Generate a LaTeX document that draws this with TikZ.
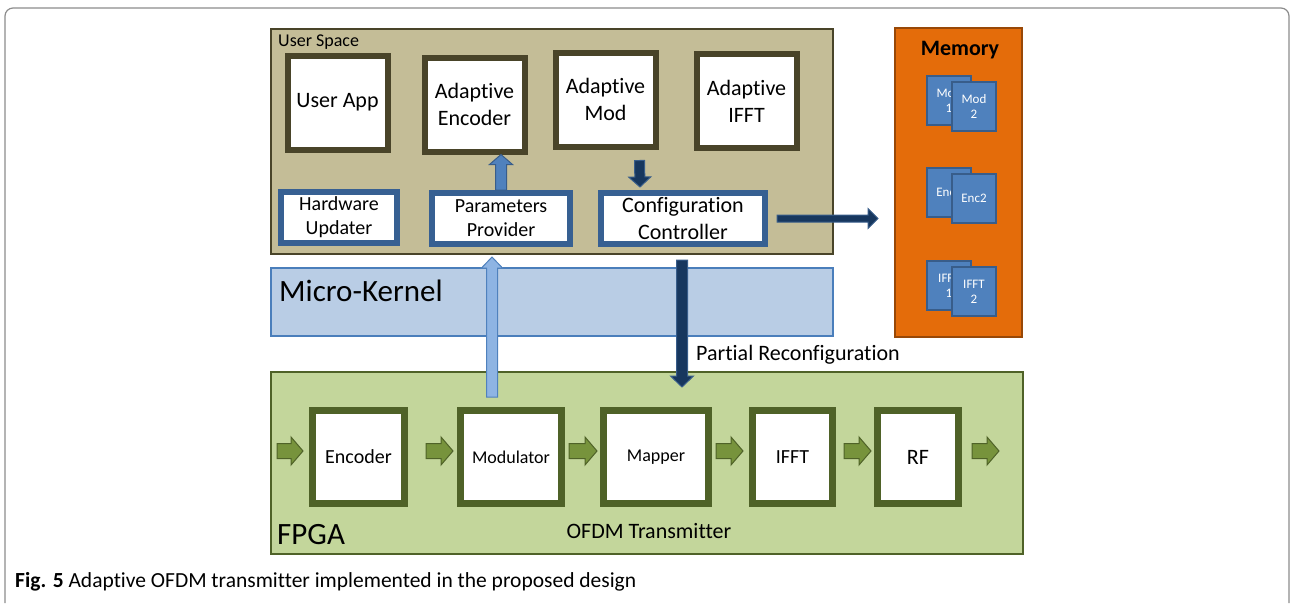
\documentclass[tikz,border=0pt]{standalone}
\usepackage{fontspec}
\setmainfont{Carlito}[Ligatures=NoCommon]
\usetikzlibrary{shapes,arrows,positioning,calc}

\definecolor{tanfill}{HTML}{C4BD97}
\definecolor{tanline}{HTML}{494429}
\definecolor{blueline}{HTML}{376092}
\definecolor{kernfill}{HTML}{B9CDE5}
\definecolor{kernline}{HTML}{4A7EBB}
\definecolor{fpgafill}{HTML}{C3D69B}
\definecolor{fpgaline}{HTML}{4F6228}
\definecolor{arrowgreen}{HTML}{77933C}
\definecolor{memfill}{HTML}{E46C0A}
\definecolor{memline}{HTML}{984807}
\definecolor{cardfill}{HTML}{4F81BD}
\definecolor{cardline}{HTML}{385D8A}
\definecolor{paleblue}{HTML}{8EB4E3}
\definecolor{navy}{HTML}{17375E}
\definecolor{framegray}{HTML}{8C8C8C}

% block arrow: shaft half width, head half width, head length
\tikzset{fatarrow/.style n args={3}{to path={
  ($(\tikztotarget)!#3!(\tikztostart)$) coordinate (fa-h)
  ($(\tikztostart)!#1!90:(\tikztotarget)$) -- ($(fa-h)!#1!90:(\tikztotarget)$)
  -- ($(fa-h)!#2!90:(\tikztotarget)$) -- (\tikztotarget)
  -- ($(fa-h)!#2!-90:(\tikztotarget)$) -- ($(fa-h)!#1!-90:(\tikztotarget)$)
  -- ($(\tikztostart)!#1!-90:(\tikztotarget)$) -- cycle}}}

\begin{document}
\begin{tikzpicture}[x=1pt,y=-1pt]
\tikzstyle{panel} = [rectangle, draw, line width=2pt, inner sep=0pt]
\tikzstyle{topbox} = [rectangle, draw=tanline, fill=white, line width=6pt, inner sep=0pt,
    align=center, minimum width=100pt, minimum height=94pt, font=\fontsize{22}{27}\selectfont]
\tikzstyle{ctrlbox} = [rectangle, draw=blueline, fill=white, line width=6pt, inner sep=0pt,
    align=center, minimum height=51pt]
\tikzstyle{fpgabox} = [rectangle, draw=fpgaline, fill=white, line width=7pt, inner sep=0pt,
    minimum height=93pt]
\tikzstyle{card} = [rectangle, draw=cardline, fill=cardfill, line width=2pt, text=white,
    align=center, minimum width=44pt, minimum height=49pt, inner sep=0pt,
    font=\fontsize{13}{15}\selectfont]
\tikzstyle{greenarrow} = [draw=fpgaline, fill=arrowgreen, line width=1pt, fatarrow={7.5pt}{14pt}{12pt}]
\tikzstyle{label} = [inner sep=0pt]

\useasboundingbox (0,0) rectangle (1291,603);
\draw[framegray, line width=1.2pt, rounded corners=8pt] (5,603) -- (5,8) -- (1289,8) -- (1289,603);

% user space
\node[panel, draw=tanline, fill=tanfill, minimum width=562pt, minimum height=225pt] (userspace) at (552,141.5) {};
\node[label, anchor=base west, font=\fontsize{18}{20}\selectfont] (uslabel) at (278,46) {User Space};

\node[topbox] (userapp) at (337.5,102.5) {User App};
\node[topbox, right=31pt of userapp, yshift=-2pt] (adenc) {Adaptive\\Encoder};
\node[topbox, right=25pt of adenc, yshift=5pt] (admod) {Adaptive\\Mod};
\node[topbox, right=35pt of admod, yshift=-1.5pt] (adifft) {Adaptive\\IFFT};

\node[ctrlbox, minimum width=116pt, font=\fontsize{20}{24}\selectfont] (hwupd) at (339,217.5) {Hardware\\Updater};
\node[ctrlbox, minimum width=138pt, font=\fontsize{20}{24}\selectfont, right=29pt of hwupd, yshift=-1pt] (parprov) {Parameters\\Provider};
\node[ctrlbox, minimum width=164pt, font=\fontsize{22}{27}\selectfont, right=25pt of parprov] (confctrl) {Configuration\\Controller};

% micro-kernel
\node[panel, draw=kernline, line width=1.5pt, fill=kernfill, minimum width=562pt, minimum height=68pt,
    below=12pt of userspace] (kernel) {};
\node[label, anchor=west, font=\fontsize{31}{36}\selectfont] (kernlabel) at (279,291) {Micro-Kernel};

% memory
\node[panel, draw=memline, fill=memfill, minimum width=127pt, minimum height=309pt] (memory) at (958.5,182.5) {};
\node[label, font=\bfseries\fontsize{22}{26}\selectfont] (memlabel) at (960,50) {Memory};

\node[card] (mod1) at (949,100.5) {Mod\\1};
\node[card] (mod2) at ($(mod1)+(25,6)$) {Mod\\2};
\node[card, below=41pt of mod1] (enc1) {Enc1};
\node[card] (enc2) at ($(enc1)+(25,6)$) {Enc2};
\node[card, below=42pt of enc1] (ifft1) {IFFT\\1};
\node[card] (ifft2) at ($(ifft1)+(25,6)$) {IFFT\\2};

% fpga
\node[panel, draw=fpgaline, fill=fpgafill, minimum width=752pt, minimum height=182pt] (fpga) at (647,463) {};
\node[fpgabox, minimum width=92pt, font=\fontsize{20}{24}\selectfont] (encoder) at (358.5,457) {Encoder};
\node[fpgabox, minimum width=101pt, font=\fontsize{18}{22}\selectfont, right=49pt of encoder] (modulator) {Modulator};
\node[fpgabox, minimum width=105pt, font=\fontsize{18}{22}\selectfont, right=35pt of modulator] (mapper) {Mapper};
\node[fpgabox, minimum width=80pt, font=\fontsize{20}{24}\selectfont, right=37pt of mapper] (ifft) {IFFT};
\node[fpgabox, minimum width=81pt, font=\fontsize{22}{26}\selectfont, right=38pt of ifft] (rf) {RF};
\node[label, anchor=west, font=\fontsize{31}{36}\selectfont] (fpgalabel) at (277,535) {FPGA};
\node[label, font=\fontsize{22}{26}\selectfont] (ofdmlabel) at (649,531) {OFDM Transmitter};

\coordinate (fpgain) at ($(encoder.west)+(-32,-6)$);
\coordinate (fpgaout) at ($(rf.east)+(37,-6)$);
\path[greenarrow] (fpgain) to ($(encoder.west)+(-6,-6)$);
\path[greenarrow] ($(encoder.east)+(18,-6)$) to ($(modulator.west)+(-4,-6)$);
\path[greenarrow] ($(modulator.east)+(4,-6)$) to ($(mapper.west)+(-3,-6)$);
\path[greenarrow] ($(mapper.east)+(4,-6)$) to ($(ifft.west)+(-6,-6)$);
\path[greenarrow] ($(ifft.east)+(8,-6)$) to ($(rf.west)+(-3,-6)$);
\path[greenarrow] ($(rf.east)+(10,-6)$) to (fpgaout);

% control arrows
\path[draw=cardline, fill=cardfill, line width=1pt, fatarrow={5.5pt}{11.5pt}{10pt}]
    (parprov.north) to (parprov.north |- adenc.south);
\path[draw=cardline, fill=navy, line width=1pt, fatarrow={5pt}{11pt}{10pt}]
    ($(admod.south)+(34,11)$) to ($(confctrl.north)+(-43,-3)$);
\path[draw=cardline, fill=navy, line width=1pt, fatarrow={3.5pt}{10pt}{10pt}]
    ($(confctrl.east)+(9,0)$) to ($(confctrl.east -| memory.west)+(-16,0)$);
\path[draw=cardfill, fill=paleblue, line width=1pt, fatarrow={5.5pt}{10.5pt}{11pt}]
    ($(modulator.north)+(-19,-10)$) to ($(parprov.south)+(-9,10)$);
\path[draw=cardline, fill=navy, line width=1pt, fatarrow={5.5pt}{11.5pt}{11pt}]
    ($(confctrl.south)+(-1,13)$) to ($(mapper.north)+(26,-20)$);
\node[label, anchor=west, font=\fontsize{22}{26}\selectfont] (prlabel) at ($(confctrl.south)+(13,108)$) {Partial Reconfiguration};

% caption
\node[label, anchor=west, font=\fontsize{21.5}{25}\selectfont] (caption) at (15,582)
    {\textbf{Fig. 5} Adaptive OFDM transmitter implemented in the proposed design};
\end{tikzpicture}
\end{document}
